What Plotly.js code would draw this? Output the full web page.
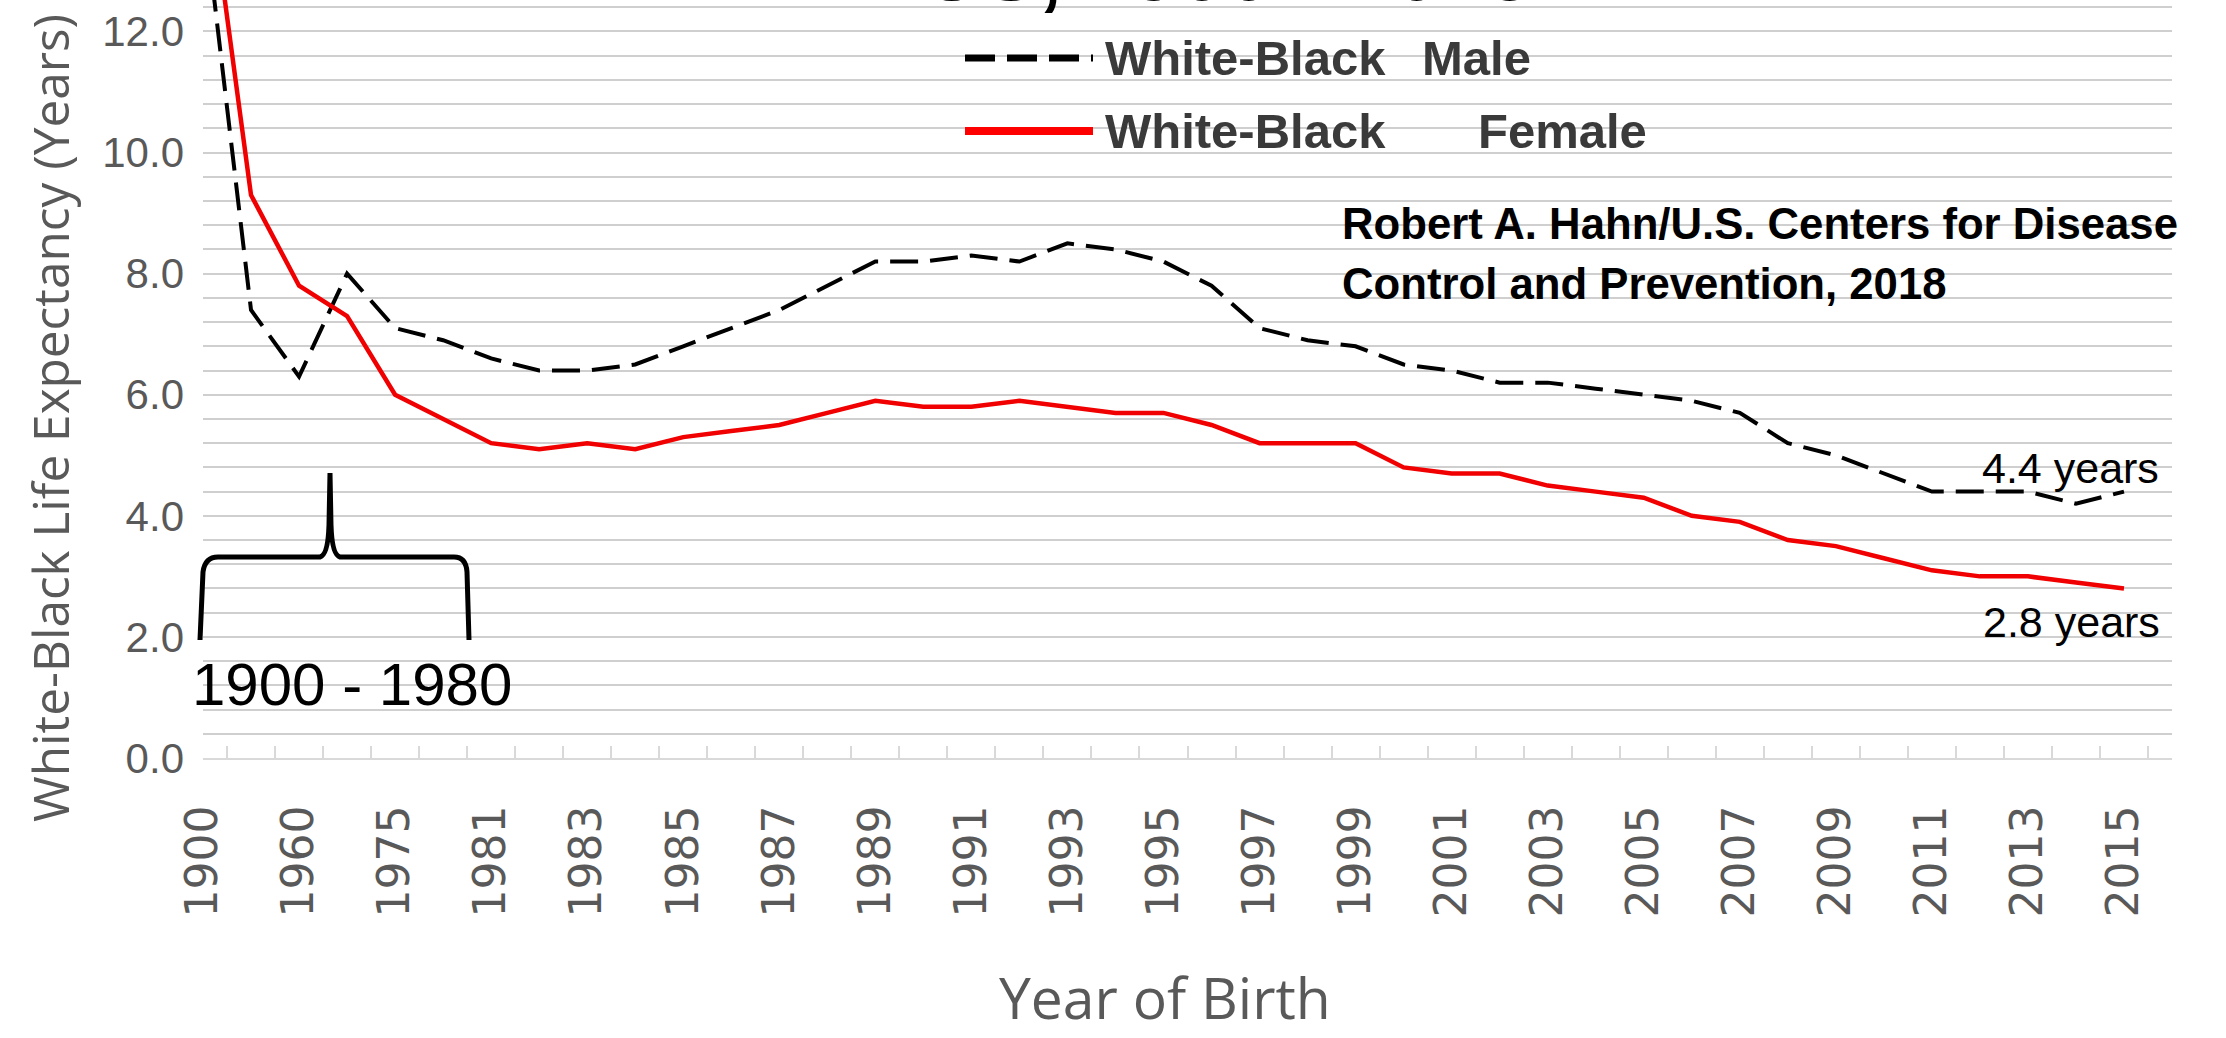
<!DOCTYPE html>
<html>
<head>
<meta charset="utf-8">
<script src="https://cdn.plot.ly/plotly-3.0.1.min.js"></script>
<style>html,body{margin:0;padding:0;background:#fff;}#chart{width:2226px;height:1038px;}</style>
</head>
<body>
<div id="chart"></div>
<script>
// ---- data ----
const years = ['1900','1950','1960','1970','1975','1980',
  '1981','1982','1983','1984','1985','1986','1987','1988','1989','1990',
  '1991','1992','1993','1994','1995','1996','1997','1998','1999','2000',
  '2001','2002','2003','2004','2005','2006','2007','2008','2009','2010',
  '2011','2012','2013','2014','2015'];
const maleGap = [14.1, 7.4, 6.3, 8.0, 7.1, 6.9,
  6.6, 6.4, 6.4, 6.5, 6.8, 7.1, 7.4, 7.8, 8.2, 8.2,
  8.3, 8.2, 8.5, 8.4, 8.2, 7.8, 7.1, 6.9, 6.8, 6.5,
  6.4, 6.2, 6.2, 6.1, 6.0, 5.9, 5.7, 5.2, 5.0, 4.7,
  4.4, 4.4, 4.4, 4.2, 4.4];
const femaleGap = [15.2, 9.3, 7.8, 7.3, 6.0, 5.6,
  5.2, 5.1, 5.2, 5.1, 5.3, 5.4, 5.5, 5.7, 5.9, 5.8,
  5.8, 5.9, 5.8, 5.7, 5.7, 5.5, 5.2, 5.2, 5.2, 4.8,
  4.7, 4.7, 4.5, 4.4, 4.3, 4.0, 3.9, 3.6, 3.5, 3.3,
  3.1, 3.0, 3.0, 2.9, 2.8];
const seriesNames = ['White-Black Male', 'White-Black Female'];

// ---- geometry helpers (layout decorations only) ----
const W = 2226, H = 1038;
const M = {l: 203, r: 54, t: 0, b: 280};
const PW = W - M.l - M.r, PH = H - M.t - M.b;
const px = x => (x - M.l) / PW;
const py = y => (PH + M.t - y) / PH;

const idx = years.map((_, i) => i);
const labelIdx = idx.filter(i => i % 2 === 0);

const GRAY = '#595959';
const GRID = '#cfcfcf';
const SANS = '"Liberation Sans", Arial, sans-serif';

const traces = [
  {x: idx, y: maleGap, name: seriesNames[0], mode: 'lines', type: 'scatter',
   line: {color: '#000000', width: 4, dash: '28px,12px'}, showlegend: false},
  {x: idx, y: femaleGap, name: seriesNames[1], mode: 'lines', type: 'scatter',
   line: {color: '#f00000', width: 4.5}, showlegend: false}
];

function ann(text, x, y, opts) {
  return Object.assign({text: text, xref: 'paper', yref: 'paper', x: px(x), y: py(y),
    xanchor: 'left', yanchor: 'middle', showarrow: false}, opts);
}

const bracket = 'M ' + px(200) + ',' + py(640) +
  ' L ' + px(203) + ',' + py(572) +
  ' Q ' + px(205) + ',' + py(557) + ' ' + px(218) + ',' + py(557) +
  ' L ' + px(320) + ',' + py(557) +
  ' Q ' + px(328) + ',' + py(555) + ' ' + px(329) + ',' + py(525) +
  ' L ' + px(330) + ',' + py(473) +
  ' L ' + px(331) + ',' + py(525) +
  ' Q ' + px(332) + ',' + py(555) + ' ' + px(340) + ',' + py(557) +
  ' L ' + px(454) + ',' + py(557) +
  ' Q ' + px(466) + ',' + py(557) + ' ' + px(467) + ',' + py(572) +
  ' L ' + px(469) + ',' + py(640);

const layout = {
  width: W, height: H,
  margin: M,
  paper_bgcolor: '#ffffff', plot_bgcolor: '#ffffff',
  showlegend: false,
  xaxis: {
    range: [0, 41], showgrid: false, zeroline: false,
    showline: true, linecolor: '#d9d9d9', linewidth: 2,
    tickmode: 'array', tickvals: labelIdx, ticktext: labelIdx.map(i => years[i]),
    ticks: '', tickangle: -90, ticklabelstandoff: 28,
    tickfont: {family: '"DejaVu Sans", sans-serif', size: 44, color: GRAY},
    minor: {tickmode: 'array', tickvals: idx.map(i => i + 0.5), ticks: 'inside',
            ticklen: 12, tickwidth: 2, tickcolor: '#d9d9d9', showgrid: false}
  },
  yaxis: {
    range: [0, 12.52], dtick: 2, tick0: 0, tickformat: '.1f',
    showgrid: true, gridcolor: GRID, gridwidth: 2, zeroline: false,
    showline: false, ticks: '', ticklabelstandoff: 18,
    tickfont: {family: SANS, size: 42, color: GRAY},
    minor: {dtick: 0.4, tick0: 0, showgrid: true, gridcolor: GRID, gridwidth: 2, ticks: ''}
  },
  shapes: [
    {type: 'path', xref: 'paper', yref: 'paper', path: bracket,
     line: {color: '#000000', width: 5}},
    {type: 'line', xref: 'paper', yref: 'paper', x0: px(965), x1: px(1093), y0: py(58), y1: py(58),
     line: {color: '#000000', width: 7, dash: '30px,12px'}},
    {type: 'line', xref: 'paper', yref: 'paper', x0: px(965), x1: px(1093), y0: py(131), y1: py(131),
     line: {color: '#ff0000', width: 8}}
  ],
  annotations: [
    ann('<b>US, 1900 - 2015</b>', 1228, 20, {xanchor: 'center', yanchor: 'bottom',
        font: {family: SANS, size: 84, color: '#000'}}),
    ann('<b>White-Black</b>', 1103, 58, {font: {family: SANS, size: 49, color: '#3a3a3a'}}),
    ann('<b>Male</b>', 1420, 58, {font: {family: SANS, size: 49, color: '#3a3a3a'}}),
    ann('<b>White-Black</b>', 1103, 131, {font: {family: SANS, size: 49, color: '#3a3a3a'}}),
    ann('<b>Female</b>', 1476, 131, {font: {family: SANS, size: 49, color: '#3a3a3a'}}),
    ann('<b>Robert A. Hahn/U.S. Centers for Disease</b>', 1340, 224, {font: {family: SANS, size: 43.7, color: '#000'}}),
    ann('<b>Control and Prevention, 2018</b>', 1340, 284, {font: {family: SANS, size: 43.7, color: '#000'}}),
    ann('4.4 years', 1980, 468, {font: {family: SANS, size: 43, color: '#000'}}),
    ann('2.8 years', 1981, 622, {font: {family: SANS, size: 43, color: '#000'}}),
    ann('1900 - 1980', 190, 684, {font: {family: SANS, size: 60, color: '#000'}}),
    ann('White-Black Life Expectancy (Years)', 50, 418, {xanchor: 'center', textangle: -90, borderpad: 0,
        font: {family: '"Open Sans", sans-serif', size: 49.5, color: GRAY}}),
    ann('Year of Birth', 1165, 1037, {xanchor: 'center', yanchor: 'bottom', borderpad: 0,
        font: {family: '"Open Sans", sans-serif', size: 57, color: GRAY}})
  ]
};

Plotly.newPlot('chart', traces, layout, {displayModeBar: false, staticPlot: true});
</script>
</body>
</html>
